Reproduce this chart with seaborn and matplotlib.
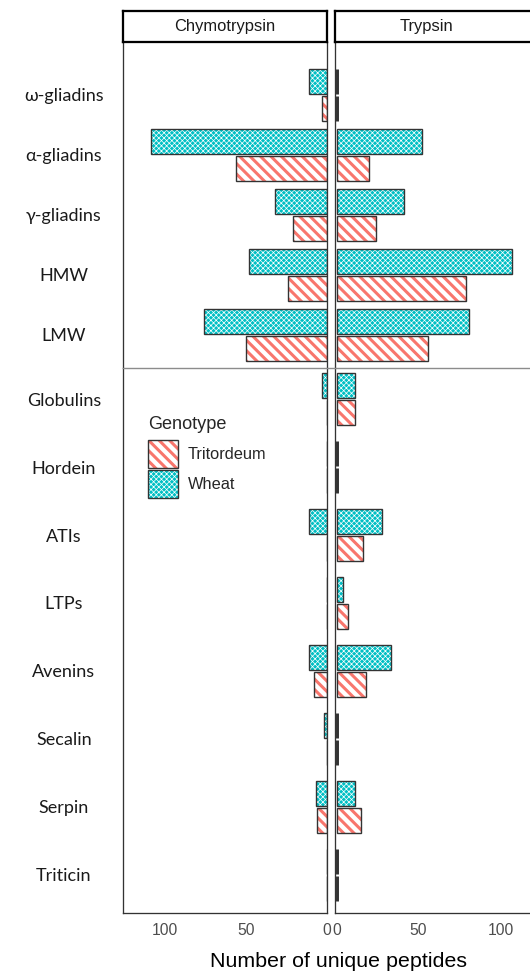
import numpy as np
import pandas as pd
import seaborn as sns
import matplotlib
matplotlib.use("Agg")
import matplotlib.pyplot as plt
from matplotlib.patches import Rectangle, Patch
from matplotlib.lines import Line2D
from matplotlib.legend_handler import HandlerTuple

# ---- data: number of unique peptides per protein family ----
gluten_proteins = ["ω-gliadins", "α-gliadins", "γ-gliadins", "HMW", "LMW"]
other_proteins = ["Globulins", "Hordein", "ATIs", "LTPs", "Avenins",
                  "Secalin", "Serpin", "Triticin"]
proteins = gluten_proteins + other_proteins

chymotrypsin_wheat = [11, 109, 32, 48, 76, 3, 0, 11, 0, 11, 2, 7, 0]
chymotrypsin_tritordeum = [3, 56, 21, 24, 50, 0, 0, 0, 0, 8, 0, 6, 0]
trypsin_wheat = [0, 52, 41, 107, 81, 11, 0, 28, 4, 33, 0, 11, 0]
trypsin_tritordeum = [0, 20, 24, 79, 56, 11, 0, 16, 7, 18, 0, 15, 0]

enzymes = ["Chymotrypsin", "Trypsin"]
genotypes = ["Wheat", "Tritordeum"]
x_ticks = [0, 50, 100]

records = []
for enzyme, w_vals, t_vals in [("Chymotrypsin", chymotrypsin_wheat, chymotrypsin_tritordeum),
                               ("Trypsin", trypsin_wheat, trypsin_tritordeum)]:
    for prot, wv, tv in zip(proteins, w_vals, t_vals):
        records.append({"enzyme": enzyme, "protein": prot, "genotype": "Wheat", "peptides": wv})
        records.append({"enzyme": enzyme, "protein": prot, "genotype": "Tritordeum", "peptides": tv})
df = pd.DataFrame(records)

# ---- style ----
TEAL = "#00BFC4"
SALMON = "#F8766D"
OUTLINE = "#333333"
BACKSLASH = chr(92)
STRIPES = BACKSLASH * 4     # diagonal stripes for Tritordeum
DOTS = "x" * 8              # fine white crosshatch for Wheat
STRIPE_LW = 1.75
DOT_LW = 0.4
DPI = 125
W, H = 530, 973
PT = 72.0 / DPI  # points per pixel

sns.set_style("white")
plt.rcParams["font.family"] = ["Liberation Sans", "DejaVu Sans"]
plt.rcParams["hatch.linewidth"] = STRIPE_LW

fig = plt.figure(figsize=(W / DPI, H / DPI), dpi=DPI)
fig.patch.set_facecolor("white")


def box(x0, y0, x1, y1):
    return [x0 / W, 1 - y1 / H, (x1 - x0) / W, (y1 - y0) / H]


ax_tl = fig.add_axes(box(123, 42, 327, 368))
ax_tr = fig.add_axes(box(335, 42, 543, 368))
ax_bl = fig.add_axes(box(123, 368, 327, 913))
ax_br = fig.add_axes(box(335, 368, 543, 913))


def set_hatch_lw(patch, lw):
    if hasattr(patch, "set_hatch_linewidth"):
        patch.set_hatch_linewidth(lw)


def apply_fill(patch, genotype):
    if genotype == "Wheat":
        patch.set_facecolor(TEAL)
        patch.set_edgecolor("white")
        patch.set_hatch(DOTS)
        set_hatch_lw(patch, DOT_LW)
    else:
        patch.set_facecolor("white")
        patch.set_edgecolor(SALMON)
        patch.set_hatch(STRIPES)
        set_hatch_lw(patch, STRIPE_LW)
    patch.set_linewidth(0)


def style_bar(ax, bar, genotype, left_panel):
    x, y = bar.get_xy()
    w, h = bar.get_width(), bar.get_height()
    apply_fill(bar, genotype)
    lw = 0.8
    if w == 0 and not left_panel:
        lw = 1.7
    ax.add_patch(Rectangle((x, y), w, h, fill=False, edgecolor=OUTLINE,
                           linewidth=lw, zorder=bar.get_zorder() + 0.1))


def draw_panel(ax, enzyme, section, width, ylim, left_panel, bottom_row):
    sub = df[(df["enzyme"] == enzyme) & (df["protein"].isin(section))]
    sns.barplot(data=sub, x="peptides", y="protein", hue="genotype",
                order=section, hue_order=genotypes, orient="h",
                palette={"Wheat": TEAL, "Tritordeum": SALMON},
                width=width, gap=0.06, saturation=1, errorbar=None,
                legend=False, ax=ax)
    for container, genotype in zip(ax.containers, genotypes):
        for bar in container:
            style_bar(ax, bar, genotype, left_panel)
    ax.set_ylim(*ylim)
    if left_panel:
        ax.set_xlim(126, 0)
    else:
        ax.set_xlim(-1, 126)
    ax.set_xlabel("")
    ax.set_ylabel("")
    ax.set_facecolor("white")
    for s in ax.spines.values():
        s.set_color(OUTLINE)
        s.set_linewidth(0.75)
    ax.spines["top"].set_visible(False)
    ax.spines["bottom"].set_visible(bottom_row)
    ax.spines["right"].set_visible(left_panel)
    ax.spines["left"].set_visible(True)
    if left_panel:
        ax.tick_params(axis="y", length=0, pad=34)
        for lab in ax.get_yticklabels():
            lab.set_horizontalalignment("center")
            lab.set_fontfamily(["Lato", "Noto Sans", "DejaVu Sans"])
            lab.set_fontsize(18 * PT)
            lab.set_color("#1a1a1a")
    else:
        ax.set_yticks([])
    if bottom_row:
        ax.set_xticks(x_ticks)
        ax.set_xticklabels([str(v) for v in x_ticks])
        ax.tick_params(axis="x", length=5 * PT, width=0.6, color=OUTLINE,
                       labelsize=15.6 * PT, labelcolor="#4D4D4D", pad=3)
    else:
        ax.set_xticks([])


top_ylim = (4.55, -0.883)
bottom_ylim = (7.559, -0.456)
draw_panel(ax_tl, "Chymotrypsin", gluten_proteins, 0.9, top_ylim, True, False)
draw_panel(ax_tr, "Trypsin", gluten_proteins, 0.9, top_ylim, False, False)
draw_panel(ax_bl, "Chymotrypsin", other_proteins, 0.8, bottom_ylim, True, True)
draw_panel(ax_br, "Trypsin", other_proteins, 0.8, bottom_ylim, False, True)

# facet strips
for (x0, x1), name, tx in [((123, 327), "Chymotrypsin", 0.5), ((335, 543), "Trypsin", 0.442)]:
    sax = fig.add_axes(box(x0, 11, x1, 42))
    sax.set_xticks([])
    sax.set_yticks([])
    sax.set_facecolor("white")
    for s in sax.spines.values():
        s.set_color("black")
        s.set_linewidth(1.3)
    sax.text(tx, 0.5, name, ha="center", va="center", fontsize=16.5 * PT,
             color="#1a1a1a", transform=sax.transAxes)

# separator between gluten and non-gluten proteins
fig.add_artist(Line2D([123 / W, 1.0], [1 - 368 / H, 1 - 368 / H], color="#8c8c8c",
                      linewidth=0.8, transform=fig.transFigure))

# shared x-axis title
fig.text(338.5 / W, 1 - 961.7 / H, "Number of unique peptides", ha="center", va="center",
         fontsize=21.4 * PT, color="black")


# legend
def legend_handle(genotype):
    p = Patch()
    apply_fill(p, genotype)
    o = Patch(fill=False, edgecolor=OUTLINE, linewidth=0.8)
    return (p, o)


legend_order = ["Tritordeum", "Wheat"]
leg_fs = 16.4 * PT
leg = ax_bl.legend([legend_handle(g) for g in legend_order], legend_order,
                   handler_map={tuple: HandlerTuple(ndivide=1)},
                   title="Genotype", title_fontsize=18.2 * PT, fontsize=leg_fs,
                   loc="upper left", bbox_to_anchor=(148 / W, 1 - 416 / H),
                   bbox_transform=fig.transFigure, frameon=False, borderpad=0,
                   borderaxespad=0, handlelength=30 / 16.4, handleheight=2.25,
                   labelspacing=2 / 16.4, handletextpad=10 / 16.4,
                   alignment="left")
# spacing between the legend title and the keys
leg._legend_box.sep = 4
for p in leg.findobj(Patch):
    hatch = p.get_hatch()
    if hatch == DOTS:
        set_hatch_lw(p, DOT_LW)
    elif hatch == STRIPES:
        set_hatch_lw(p, STRIPE_LW)

fig.savefig("out.png", dpi=DPI, facecolor="white")
